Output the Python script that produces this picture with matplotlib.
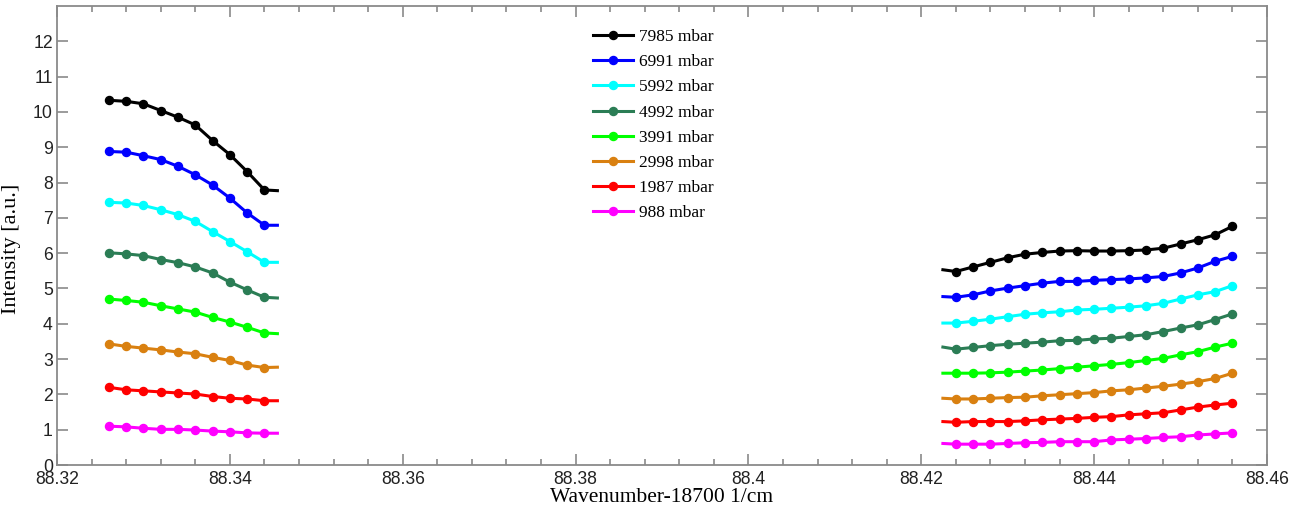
"""Pressure series of intensity vs wavenumber, two spectral windows."""

import matplotlib
matplotlib.use("Agg")
import matplotlib.pyplot as plt
from matplotlib.ticker import MultipleLocator

# wavenumber positions (first/last point of each window carries no marker)
x_left = [88.326, 88.328, 88.330, 88.332, 88.334, 88.336, 88.338, 88.340,
          88.342, 88.344, 88.3455]
x_right = [88.4225, 88.424, 88.426, 88.428, 88.430, 88.432, 88.434, 88.436,
           88.438, 88.440, 88.442, 88.444, 88.446, 88.448, 88.450, 88.452,
           88.454, 88.456]

labels = ["7985 mbar", "6991 mbar", "5992 mbar", "4992 mbar",
          "3991 mbar", "2998 mbar", "1987 mbar", "988 mbar"]

left_7985 = [10.33, 10.30, 10.23, 10.04, 9.85, 9.63, 9.19, 8.79, 8.31, 7.79, 7.77]
left_6991 = [8.88, 8.86, 8.76, 8.65, 8.46, 8.22, 7.93, 7.56, 7.14, 6.79, 6.79]
left_5992 = [7.44, 7.42, 7.35, 7.23, 7.09, 6.90, 6.61, 6.33, 6.04, 5.74, 5.74]
left_4992 = [6.01, 5.98, 5.93, 5.82, 5.73, 5.61, 5.44, 5.18, 4.96, 4.75, 4.73]
left_3991 = [4.70, 4.66, 4.61, 4.51, 4.42, 4.33, 4.18, 4.05, 3.90, 3.74, 3.72]
left_2998 = [3.43, 3.36, 3.31, 3.26, 3.20, 3.15, 3.05, 2.96, 2.83, 2.76, 2.77]
left_1987 = [2.20, 2.13, 2.10, 2.07, 2.04, 2.01, 1.94, 1.89, 1.87, 1.82, 1.82]
left_988 = [1.10, 1.08, 1.04, 1.01, 1.01, 0.99, 0.96, 0.94, 0.91, 0.90, 0.90]

right_7985 = [5.53, 5.48, 5.61, 5.74, 5.87, 5.97, 6.02, 6.06, 6.07, 6.06,
              6.06, 6.07, 6.09, 6.14, 6.26, 6.38, 6.52, 6.76]
right_6991 = [4.77, 4.75, 4.82, 4.93, 5.01, 5.08, 5.15, 5.20, 5.20, 5.23,
              5.25, 5.27, 5.30, 5.34, 5.44, 5.58, 5.77, 5.91]
right_5992 = [4.02, 4.02, 4.07, 4.13, 4.20, 4.27, 4.31, 4.34, 4.39, 4.41,
              4.44, 4.47, 4.51, 4.58, 4.70, 4.82, 4.91, 5.08]
right_4992 = [3.34, 3.28, 3.33, 3.38, 3.42, 3.45, 3.48, 3.52, 3.53, 3.57,
              3.59, 3.64, 3.69, 3.78, 3.88, 3.97, 4.12, 4.28]
right_3991 = [2.60, 2.60, 2.60, 2.61, 2.63, 2.66, 2.69, 2.73, 2.77, 2.81,
              2.85, 2.90, 2.96, 3.02, 3.12, 3.21, 3.34, 3.45]
right_2998 = [1.89, 1.87, 1.87, 1.89, 1.91, 1.92, 1.96, 1.99, 2.02, 2.05,
              2.10, 2.13, 2.18, 2.23, 2.29, 2.36, 2.45, 2.60]
right_1987 = [1.23, 1.21, 1.23, 1.23, 1.23, 1.25, 1.28, 1.30, 1.32, 1.35,
              1.37, 1.42, 1.45, 1.48, 1.56, 1.64, 1.70, 1.75]
right_988 = [0.61, 0.59, 0.59, 0.59, 0.61, 0.63, 0.64, 0.66, 0.66, 0.66,
             0.71, 0.73, 0.75, 0.78, 0.80, 0.85, 0.88, 0.91]

left_series = [left_7985, left_6991, left_5992, left_4992,
               left_3991, left_2998, left_1987, left_988]
right_series = [right_7985, right_6991, right_5992, right_4992,
                right_3991, right_2998, right_1987, right_988]

colors = ["#000000", "#0000ff", "#00ffff", "#2b7d55",
          "#00ff00", "#d98010", "#ff0000", "#ff00ff"]

x_ticks = [88.32, 88.34, 88.36, 88.38, 88.40, 88.42, 88.44, 88.46]
x_ticklabels = ["88.32", "88.34", "88.36", "88.38", "88.4", "88.42", "88.44", "88.46"]
y_ticks = [0, 1, 2, 3, 4, 5, 6, 7, 8, 9, 10, 11, 12]

fig = plt.figure(figsize=(13.05, 5.11), dpi=100)
ax = fig.add_axes([57 / 1305, 46 / 511, 1210 / 1305, 459 / 511])

style = dict(lw=2.2, marker="o", ms=5.8)
for yl, yr, c, lab in zip(left_series, right_series, colors, labels):
    ax.plot(x_left, yl, color=c, label=lab,
            markevery=list(range(len(x_left) - 1)), **style)
    ax.plot(x_right, yr, color=c,
            markevery=list(range(1, len(x_right))), **style)

ax.set_xlim(88.32, 88.46)
ax.set_ylim(0, 13)
ax.set_xticks(x_ticks)
ax.set_xticklabels(x_ticklabels)
ax.set_yticks(y_ticks)
ax.xaxis.set_minor_locator(MultipleLocator(0.004))

for sp in ax.spines.values():
    sp.set_color("#8a8a8a")
    sp.set_linewidth(1.3)
ax.tick_params(which="both", direction="in", top=True, right=True,
               color="#8a8a8a", width=1.2, labelcolor="#222222",
               labelsize=12.7)
ax.tick_params(which="major", length=8)
ax.tick_params(which="minor", length=4.3)
for t in ax.get_xticklabels() + ax.get_yticklabels():
    t.set_family("Liberation Sans")
ax.tick_params(axis="x", pad=4)
ax.tick_params(axis="y", pad=3)

ax.set_xlabel("Wavenumber-18700 1/cm", family="Liberation Serif",
              fontsize=15.5, labelpad=0)
ax.set_ylabel("Intensity [a.u.]", family="Liberation Serif", fontsize=16)
ax.yaxis.set_label_coords(-0.0295, 0.47)

leg = ax.legend(loc="upper left", bbox_to_anchor=(0.443, 0.95),
                frameon=False, borderpad=0, borderaxespad=0,
                handlelength=2.3, handletextpad=0.35, labelspacing=0.52,
                prop={"family": "Liberation Serif", "size": 12.5})

fig.savefig("out.png", dpi=100)
